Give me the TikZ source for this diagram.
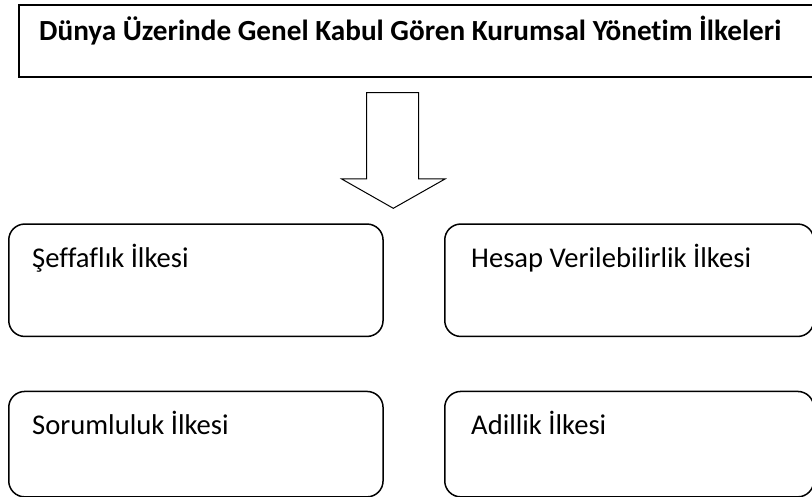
\documentclass[tikz,border=0pt]{standalone}
\usepackage{fontspec}
\setmainfont{Carlito}[RawFeature=-liga]

\begin{document}
\begin{tikzpicture}[x=1pt, y=-1pt,
	ilkebox/.style={draw, line width=1.5pt, rounded corners=16pt, anchor=north west, inner sep=0pt},
	ilketext/.style={anchor=base west, inner sep=0pt, font=\fontsize{28.6}{32}\selectfont}]
	\useasboundingbox (0,0) rectangle (812,497);

	\node[draw, line width=1.7pt, minimum width=820pt, minimum height=72pt, anchor=north west, inner sep=0pt] (baslik) at (18,4) {};
	\node[anchor=base west, inner sep=0pt, font=\fontsize{29.2}{33}\selectfont\bfseries] (basliktext) at (39,41) {Dünya Üzerinde Genel Kabul Gören Kurumsal Yönetim İlkeleri};

	\draw[line width=1pt] (366.7,92.7) -- (418.7,92.7) -- (418.7,179) -- (445,179) -- (393.3,208.3) -- (341.7,179) -- (366.7,179) -- cycle;

	\node[ilkebox, minimum width=374.3pt, minimum height=112.4pt] (seffaflik) at (8,223.3) {};
	\node[ilkebox, minimum width=369pt, minimum height=112.4pt] (hesap) at (444,223.3) {};
	\node[ilkebox, minimum width=374.3pt, minimum height=105.4pt] (sorumluluk) at (8,390.7) {};
	\node[ilkebox, minimum width=369pt, minimum height=105.4pt] (adillik) at (444,390.7) {};

	\node[ilketext] (seffaflik-t) at ([xshift=24pt, yshift=-44pt]seffaflik.north west) {Şeffaflık İlkesi};
	\node[ilketext] (hesap-t) at ([xshift=27pt, yshift=-44pt]hesap.north west) {Hesap Verilebilirlik İlkesi};
	\node[ilketext] (sorumluluk-t) at ([xshift=24pt, yshift=-44pt]sorumluluk.north west) {Sorumluluk İlkesi};
	\node[ilketext] (adillik-t) at ([xshift=27pt, yshift=-44pt]adillik.north west) {Adillik İlkesi};
\end{tikzpicture}
\end{document}
